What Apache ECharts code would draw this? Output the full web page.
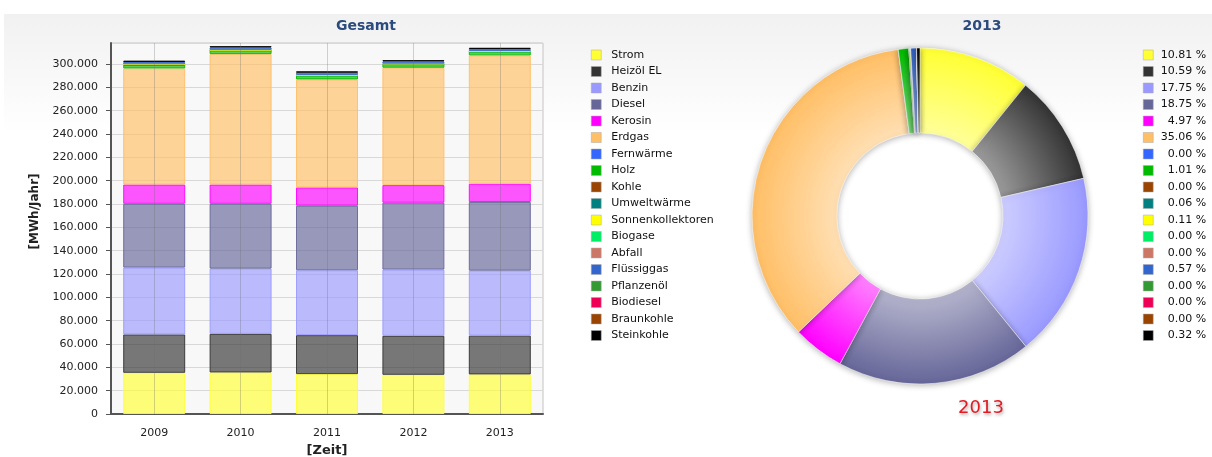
<!DOCTYPE html>
<html>
<head>
<meta charset="utf-8">
<script src="https://cdn.jsdelivr.net/npm/echarts@6/dist/echarts.min.js"></script>
<style>
  html, body { margin: 0; padding: 0; background: #fff; }
  #main { width: 1212px; height: 457px; }
</style>
</head>
<body>
<div id="main"></div>
<script>
/* Energieverbrauch Gesamt + Anteile 2013 */
var years = ['2009', '2010', '2011', '2012', '2013'];

var names = ['Strom', 'Heizöl EL', 'Benzin', 'Diesel', 'Kerosin', 'Erdgas', 'Fernwärme', 'Holz', 'Kohle',
  'Umweltwärme', 'Sonnenkollektoren', 'Biogase', 'Abfall', 'Flüssiggas', 'Pflanzenöl', 'Biodiesel',
  'Braunkohle', 'Steinkohle'];

var colors = ['#ffff33', '#333333', '#9999ff', '#666699', '#ff00ff', '#ffbf66', '#3366ff', '#00bb00', '#994400',
  '#008080', '#ffff00', '#00ee66', '#cc7766', '#3366cc', '#339933', '#ee0055', '#994400', '#000000'];

// MWh/Jahr
var strom       = [35300, 35600, 34200, 33600, 33933];
var heizoel     = [32900, 33100, 33400, 33400, 33242];
var benzin      = [57300, 55900, 55600, 56800, 55717];
var diesel      = [54700, 55600, 55300, 57300, 58856];
var kerosin     = [16500, 16500, 15700, 15100, 15601];
var erdgas      = [99500, 111800, 92600, 100600, 110053];
var fernwaerme  = [0, 0, 0, 0, 0];
var holz        = [3000, 3100, 3300, 3000, 3170];
var kohle       = [0, 0, 0, 0, 0];
var umwelt      = [170, 180, 180, 180, 188];
var sonnen      = [330, 340, 340, 340, 345];
var biogase     = [0, 0, 0, 0, 0];
var abfall      = [0, 0, 0, 0, 0];
var fluessiggas = [2000, 2000, 1900, 1900, 1789];
var pflanzenoel = [0, 0, 0, 0, 0];
var biodiesel   = [0, 0, 0, 0, 0];
var braunkohle  = [0, 0, 0, 0, 0];
var steinkohle  = [1200, 1200, 1200, 1100, 1004];

var values = [strom, heizoel, benzin, diesel, kerosin, erdgas, fernwaerme, holz, kohle, umwelt, sonnen,
  biogase, abfall, fluessiggas, pflanzenoel, biodiesel, braunkohle, steinkohle];

var yTicks = { min: 0, max: 318000, step: 20000 };
var pieYear = 4; // 2013

(function(){
  var myChart = echarts.init(document.getElementById('main'));
  var font = 'DejaVu Sans';
  var pieCenter = [920, 216], pieR = 168;

  function rgb(hex) {
    var n = parseInt(hex.slice(1), 16);
    return [n >> 16, (n >> 8) & 255, n & 255];
  }
  function mix(hex, w) {
    var c = rgb(hex).map(function (x) { return Math.round(x + (255 - x) * w); });
    return 'rgb(' + c.join(',') + ')';
  }
  function alpha(hex, a) {
    return 'rgba(' + rgb(hex).join(',') + ',' + a + ')';
  }

  var pieTotal = 0;
  values.forEach(function (v) { pieTotal += v[pieYear]; });

  var barSeries = names.map(function (n, i) {
    return {
      name: n,
      type: 'bar',
      stack: 'gesamt',
      barWidth: 62,
      // no outline on empty segments
      data: values[i].map(function (v) {
        return { value: v, itemStyle: { borderWidth: v > 0 ? 1 : 0 } };
      }),
      itemStyle: { color: alpha(colors[i], 0.66), borderColor: alpha(colors[i], 0.9) }
    };
  });

  var pieData = names.map(function (n, i) {
    return {
      name: n,
      value: values[i][pieYear],
      itemStyle: {
        color: {
          type: 'radial', x: pieCenter[0], y: pieCenter[1], r: pieR, global: true,
          colorStops: [
            { offset: 0.45, color: mix(colors[i], 0.55) },
            { offset: 1, color: colors[i] }
          ]
        }
      }
    };
  });

  var legendData = names.map(function (n, i) {
    return { name: n, itemStyle: { color: colors[i], opacity: 1, borderColor: '#aaa', borderWidth: 0.5 } };
  });

  var option = {
    backgroundColor: '#ffffff',
    animation: false,
    graphic: [{
      type: 'rect', z: -10, silent: true,
      shape: { x: 4, y: 14, width: 1208, height: 120 },
      style: {
        fill: {
          type: 'linear', x: 0, y: 0, x2: 0, y2: 1,
          colorStops: [{ offset: 0, color: '#f1f1f1' }, { offset: 1, color: '#ffffff' }]
        }
      }
    }],
    title: [
      { text: 'Gesamt', left: 361, top: 14, textAlign: 'center',
        textStyle: { fontFamily: font, fontSize: 14, fontWeight: 'bold', color: '#2b4a7e' } },
      { text: '2013', left: 977, top: 14, textAlign: 'center',
        textStyle: { fontFamily: font, fontSize: 14, fontWeight: 'bold', color: '#2b4a7e' } },
      { text: '2013', left: 976, top: 394, textAlign: 'center',
        textStyle: { fontFamily: font, fontSize: 18, fontWeight: 'normal', color: '#e31b23',
          textShadowColor: 'rgba(0,0,0,0.3)', textShadowBlur: 3, textShadowOffsetX: 1, textShadowOffsetY: 2 } }
    ],
    legend: [
      {
        data: legendData, orient: 'vertical', left: 586, top: 43,
        itemWidth: 10, itemHeight: 10, itemGap: 2.5, icon: 'rect',
        textStyle: { fontFamily: font, fontSize: 11, color: '#111', lineHeight: 14, padding: [0, 0, 0, 5] }
      },
      {
        data: legendData, orient: 'vertical', left: 1138, top: 43,
        itemWidth: 10, itemHeight: 10, itemGap: 2.5, icon: 'rect',
        formatter: function (name) {
          var i = names.indexOf(name);
          var p = values[i][pieYear] / pieTotal * 100;
          return '{p|' + p.toFixed(2) + ' %}';
        },
        textStyle: {
          fontFamily: font, fontSize: 11, color: '#111', lineHeight: 14,
          rich: { p: { fontFamily: font, fontSize: 11, color: '#111', width: 48, align: 'right' } }
        }
      }
    ],
    grid: {
      left: 111, right: 669, top: 43, bottom: 43,
      containLabel: false, outerBoundsMode: 'none',
      show: true, backgroundColor: '#f8f8f8', borderColor: '#c4c4c4', borderWidth: 1
    },
    xAxis: {
      type: 'category',
      data: years,
      name: '[Zeit]', nameLocation: 'middle', nameGap: 29,
      nameTextStyle: { fontFamily: font, fontSize: 13, fontWeight: 'bold', color: '#222' },
      axisLine: { lineStyle: { color: '#555', width: 2 } },
      axisTick: { alignWithLabel: true, length: 5, lineStyle: { color: '#555' } },
      axisLabel: { fontFamily: font, fontSize: 11, color: '#222', margin: 14 },
      splitLine: { show: false }
    },
    yAxis: {
      type: 'value',
      min: yTicks.min, max: yTicks.max, interval: yTicks.step,
      name: '[MWh/Jahr]', nameLocation: 'middle', nameGap: 70,
      nameTextStyle: { fontFamily: font, fontSize: 12, fontWeight: 'bold', color: '#222', padding: [0, 0, 0, 34] },
      axisLine: { show: true, lineStyle: { color: '#555', width: 2 } },
      axisTick: { show: true, length: 5, lineStyle: { color: '#555' } },
      axisLabel: {
        fontFamily: font, fontSize: 11, color: '#222', margin: 13, showMaxLabel: false,
        formatter: function (v) { return v === 0 ? '0' : (v / 1000) + '.000'; }
      },
      splitLine: { lineStyle: { color: '#d8d8d8' } }
    },
    series: barSeries.concat([
      // vertical grid lines through the bar centres
      {
        type: 'line', name: '_grid', data: [], silent: true, z: 5,
        markLine: {
          silent: true, symbol: 'none', label: { show: false },
          lineStyle: { color: 'rgba(110,110,110,0.3)', type: 'solid', width: 1 },
          data: years.map(function (y) { return { xAxis: y }; })
        }
      },
      {
        name: '2013',
        type: 'pie',
        center: pieCenter,
        radius: [83, pieR],
        startAngle: 90,
        clockwise: true,
        label: { show: false },
        labelLine: { show: false },
        emphasis: { scale: false },
        itemStyle: {
          borderColor: 'rgba(255,255,255,0.5)', borderWidth: 1,
          shadowBlur: 6, shadowColor: 'rgba(0,0,0,0.3)', shadowOffsetY: 1
        },
        data: pieData
      }
    ])
  };
  myChart.setOption(option);
})();
</script>
</body>
</html>
